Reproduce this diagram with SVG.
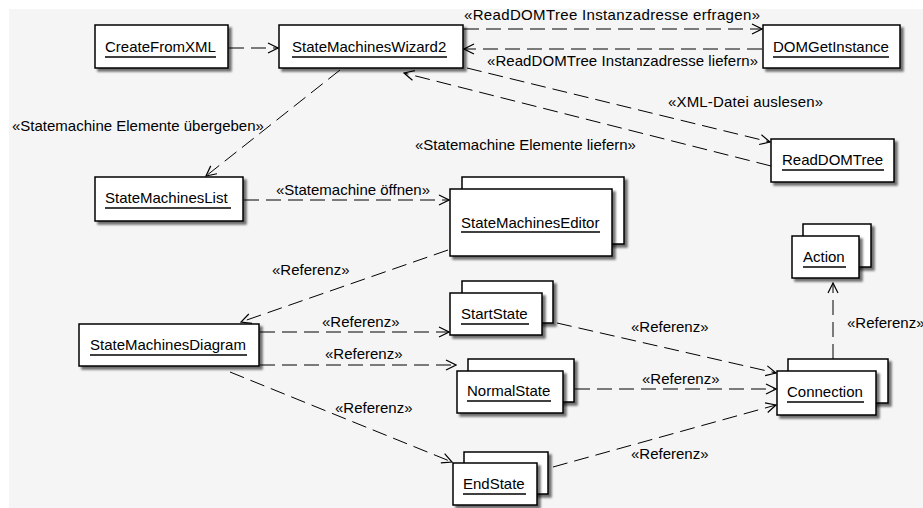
<svg xmlns="http://www.w3.org/2000/svg" width="923" height="508" viewBox="0 0 923 508">
<defs>
<style>
.box{fill:#fff;stroke:#000;stroke-width:1.5;filter:url(#sh)}
.t{font-family:"Liberation Sans",Arial,sans-serif;font-size:15px;fill:#000}
.ul{stroke:#000;stroke-width:1.3}
.c{fill:none;stroke:#000;stroke-width:1;stroke-dasharray:15 7;marker-end:url(#ah)}
.cn{fill:none;stroke:#000;stroke-width:1;stroke-dasharray:15 7}
</style>
<filter id="sh" x="-10%" y="-10%" width="130%" height="140%">
<feDropShadow dx="3" dy="3" stdDeviation="0.8" flood-color="#000" flood-opacity="0.55"/>
</filter>
<marker id="ah" markerUnits="userSpaceOnUse" markerWidth="12" markerHeight="12" refX="10" refY="5" orient="auto" viewBox="-1 -1 12 12">
<path d="M0,0 L10,5 L0,10" fill="none" stroke="#000" stroke-width="1.2"/>
</marker>
</defs>
<rect x="0" y="0" width="923" height="508" fill="#fff"/>
<rect x="9" y="9" width="914" height="499" fill="#f5f5f5"/>

<g id="connectors">
<line class="c" x1="229" y1="48" x2="278" y2="48"/>
<line class="c" x1="464" y1="29" x2="762" y2="29"/>
<line class="c" x1="762" y1="49" x2="464" y2="49"/>
<line class="c" x1="467" y1="68" x2="770" y2="142"/>
<line class="c" x1="771" y1="166" x2="404" y2="73"/>
<line class="c" x1="340" y1="70" x2="206" y2="176"/>
<line class="c" x1="244" y1="200" x2="449" y2="200"/>
<line class="c" x1="448" y1="250" x2="241" y2="322"/>
<line class="c" x1="260" y1="332" x2="449" y2="332"/>
<line class="c" x1="260" y1="365" x2="456" y2="365"/>
<line class="c" x1="230" y1="372" x2="452" y2="462"/>
<line class="c" x1="557" y1="323" x2="776" y2="373"/>
<line class="c" x1="575" y1="389" x2="776" y2="389"/>
<line class="c" x1="553" y1="467" x2="776" y2="405"/>
<line class="c" x1="833" y1="359" x2="833" y2="283"/>
<text class="t" x="464" y="20" textLength="296">«ReadDOMTree Instanzadresse erfragen»</text>
<text class="t" x="487" y="66" textLength="271">«ReadDOMTree Instanzadresse liefern»</text>
<text class="t" x="668" y="107" textLength="155">«XML-Datei auslesen»</text>
<text class="t" x="415" y="150">«Statemachine Elemente liefern»</text>
<text class="t" x="12" y="131">«Statemachine Elemente übergeben»</text>
<text class="t" x="276" y="195">«Statemachine öffnen»</text>
<text class="t" x="272" y="275">«Referenz»</text>
<text class="t" x="322" y="327">«Referenz»</text>
<text class="t" x="325" y="359">«Referenz»</text>
<text class="t" x="335" y="413">«Referenz»</text>
<text class="t" x="631" y="332">«Referenz»</text>
<text class="t" x="642" y="384">«Referenz»</text>
<text class="t" x="631" y="459">«Referenz»</text>
<text class="t" x="847" y="328">«Referenz»</text>
</g>

<g id="CreateFromXML">
<rect class="box" x="95" y="25" width="133" height="43"/>
<text class="t" x="105" y="52">CreateFromXML</text>
<line class="ul" x1="105" y1="57" x2="216" y2="57"/>
</g>
<g id="StateMachinesWizard2">
<rect class="box" x="279" y="25" width="184" height="43"/>
<text class="t" x="292" y="52">StateMachinesWizard2</text>
<line class="ul" x1="292" y1="57" x2="447" y2="57"/>
</g>
<g id="DOMGetInstance">
<rect class="box" x="763" y="25" width="137" height="43"/>
<text class="t" x="773" y="52">DOMGetInstance</text>
<line class="ul" x1="773" y1="57" x2="889" y2="57"/>
</g>
<g id="ReadDOMTree">
<rect class="box" x="771" y="139" width="123" height="43"/>
<text class="t" x="782" y="165">ReadDOMTree</text>
<line class="ul" x1="782" y1="170" x2="884" y2="170"/>
</g>
<g id="StateMachinesList">
<rect class="box" x="95" y="177" width="148" height="44"/>
<text class="t" x="105" y="203">StateMachinesList</text>
<line class="ul" x1="105" y1="208" x2="231" y2="208"/>
</g>
<g id="StateMachinesEditor">
<rect class="box" x="462" y="177" width="162" height="67"/>
<rect class="box" x="450" y="189" width="162" height="67"/>
<text class="t" x="461" y="228">StateMachinesEditor</text>
<line class="ul" x1="461" y1="232" x2="600" y2="232"/>
</g>
<g id="StateMachinesDiagram">
<rect class="box" x="79" y="324" width="180" height="42"/>
<text class="t" x="90" y="350">StateMachinesDiagram</text>
<line class="ul" x1="90" y1="355" x2="247" y2="355"/>
</g>
<g id="StartState">
<rect class="box" x="462" y="281" width="91" height="42"/>
<rect class="box" x="450" y="293" width="92" height="42"/>
<text class="t" x="461" y="319">StartState</text>
<line class="ul" x1="461" y1="324" x2="529" y2="324"/>
</g>
<g id="NormalState">
<rect class="box" x="468" y="359" width="106" height="43"/>
<rect class="box" x="457" y="371" width="106" height="42"/>
<text class="t" x="467" y="396">NormalState</text>
<line class="ul" x1="467" y1="401" x2="551" y2="401"/>
</g>
<g id="EndState">
<rect class="box" x="464" y="452" width="84" height="42"/>
<rect class="box" x="453" y="463" width="84" height="42"/>
<text class="t" x="463" y="489">EndState</text>
<line class="ul" x1="463" y1="494" x2="526" y2="494"/>
</g>
<g id="Connection">
<rect class="box" x="788" y="359" width="100" height="44"/>
<rect class="box" x="777" y="371" width="99" height="44"/>
<text class="t" x="787" y="397">Connection</text>
<line class="ul" x1="787" y1="402" x2="864" y2="402"/>
</g>
<g id="Action">
<rect class="box" x="803" y="224" width="68" height="43"/>
<rect class="box" x="792" y="236" width="67" height="42"/>
<text class="t" x="803" y="262">Action</text>
<line class="ul" x1="803" y1="267" x2="846" y2="267"/>
</g>
</svg>
